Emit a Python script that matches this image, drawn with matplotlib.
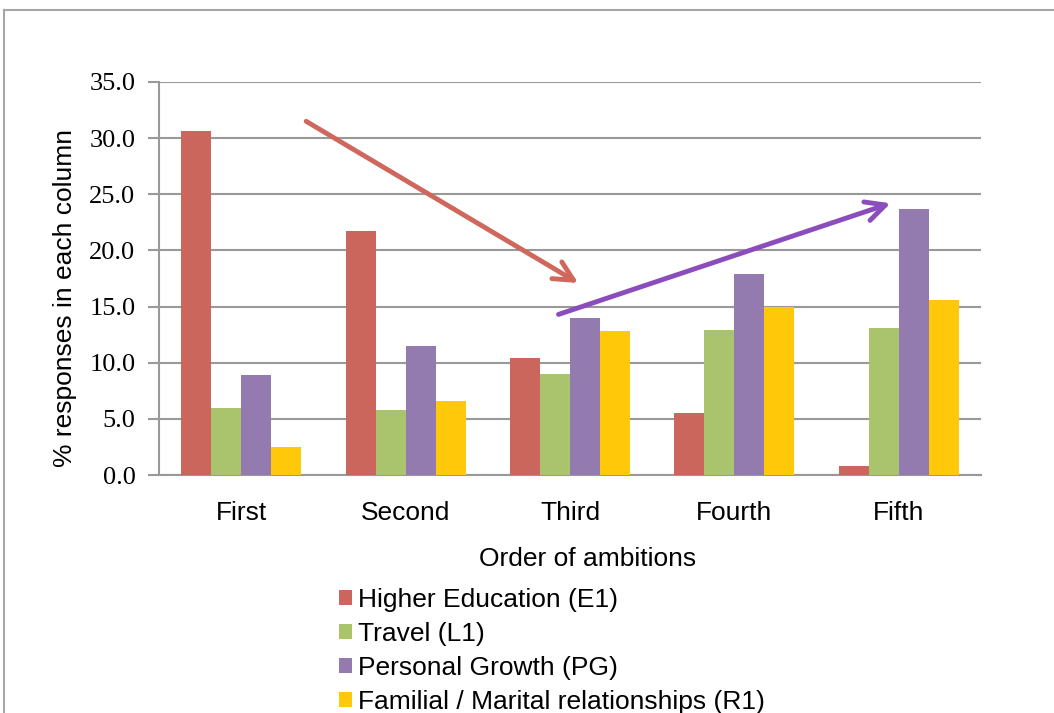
import matplotlib
matplotlib.use("Agg")
import matplotlib.pyplot as plt
from matplotlib.lines import Line2D
import numpy as np

categories = ["First", "Second", "Third", "Fourth", "Fifth"]
higher_education = [30.6, 21.7, 10.4, 5.5, 0.8]
travel = [6.0, 5.8, 9.0, 12.9, 13.1]
personal_growth = [8.9, 11.5, 14.0, 17.9, 23.7]
familial = [2.5, 6.6, 12.8, 15.0, 15.6]
series_labels = [
    "Higher Education (E1)",
    "Travel (L1)",
    "Personal Growth (PG)",
    "Familial / Marital relationships (R1)",
]
y_ticks = [0.0, 5.0, 10.0, 15.0, 20.0, 25.0, 30.0, 35.0]

colors = ["#CB665C", "#A9C46C", "#937BB0", "#FFC90A"]
sans = ["Liberation Sans", "DejaVu Sans"]
serif = ["Liberation Serif", "DejaVu Serif"]
grid_gray = "#999999"

fig = plt.figure(figsize=(10.54, 7.13), dpi=100)
ax = fig.add_axes([0.1509, 0.3338, 0.9307 - 0.1509, 0.885 - 0.3338])

x = np.arange(len(categories))
width = 0.1825
all_series = [higher_education, travel, personal_growth, familial]
for i, (vals, col, lab) in enumerate(zip(all_series, colors, series_labels)):
    ax.bar(x + (i - 1.5) * width, vals, width, color=col, label=lab,
           zorder=3, linewidth=0)

ax.set_xlim(-0.5, len(categories) - 0.5)
ax.set_ylim(0, 35)
ax.set_yticks(y_ticks)
ax.set_yticklabels([f"{v:.1f}" for v in y_ticks], fontfamily=serif, fontsize=19)
ax.set_xticks(x)
ax.set_xticklabels(categories, fontfamily=sans, fontsize=19)
ax.tick_params(axis="x", length=0, pad=19)
ax.tick_params(axis="y", length=8, width=1.5, color=grid_gray, pad=9)
ax.yaxis.grid(True, color=grid_gray, linewidth=1.5, zorder=0)
ax.set_axisbelow(True)
for side in ["top", "right"]:
    ax.spines[side].set_visible(False)
for side in ["left", "bottom"]:
    ax.spines[side].set_color(grid_gray)
    ax.spines[side].set_linewidth(1.5)

ax.set_ylabel("% responses in each column", fontfamily=sans, fontsize=19)
ax.yaxis.set_label_coords(-0.100, 0.45)
ax.set_xlabel("Order of ambitions", fontfamily=sans, fontsize=19)
ax.xaxis.set_label_coords(0.521, -0.2137)
ax.xaxis.label.set_va("center")

# Trend arrows: falling higher-education share, rising personal-growth share
head = "->,head_length=1.4,head_width=0.7"
ax.annotate("", xy=(2.05, 17.1), xytext=(0.395, 31.5),
            arrowprops=dict(arrowstyle=head, color="#D0675C", lw=3.5,
                            shrinkA=0, shrinkB=0, capstyle="round",
                            joinstyle="round"),
            zorder=5)
ax.annotate("", xy=(3.95, 24.2), xytext=(1.93, 14.3),
            arrowprops=dict(arrowstyle=head, color="#8B4DBB", lw=3.5,
                            shrinkA=0, shrinkB=0, capstyle="round",
                            joinstyle="round"),
            zorder=5)

leg = fig.legend(loc="upper left", bbox_to_anchor=(0.3216, 0.175), frameon=False,
                 prop={"family": sans, "size": 19}, handlelength=0.49,
                 handleheight=0.49, handletextpad=0.22, labelspacing=0.38,
                 borderaxespad=0, borderpad=0)

# Outer frame
fig.add_artist(Line2D([4 / 1054, 4 / 1054], [-0.1, 1 - 10 / 713],
                      transform=fig.transFigure, color="#A6A6A6", lw=1.5))
fig.add_artist(Line2D([4 / 1054, 1.1], [1 - 10 / 713, 1 - 10 / 713],
                      transform=fig.transFigure, color="#A6A6A6", lw=1.5))

fig.savefig("out.png", dpi=100)
